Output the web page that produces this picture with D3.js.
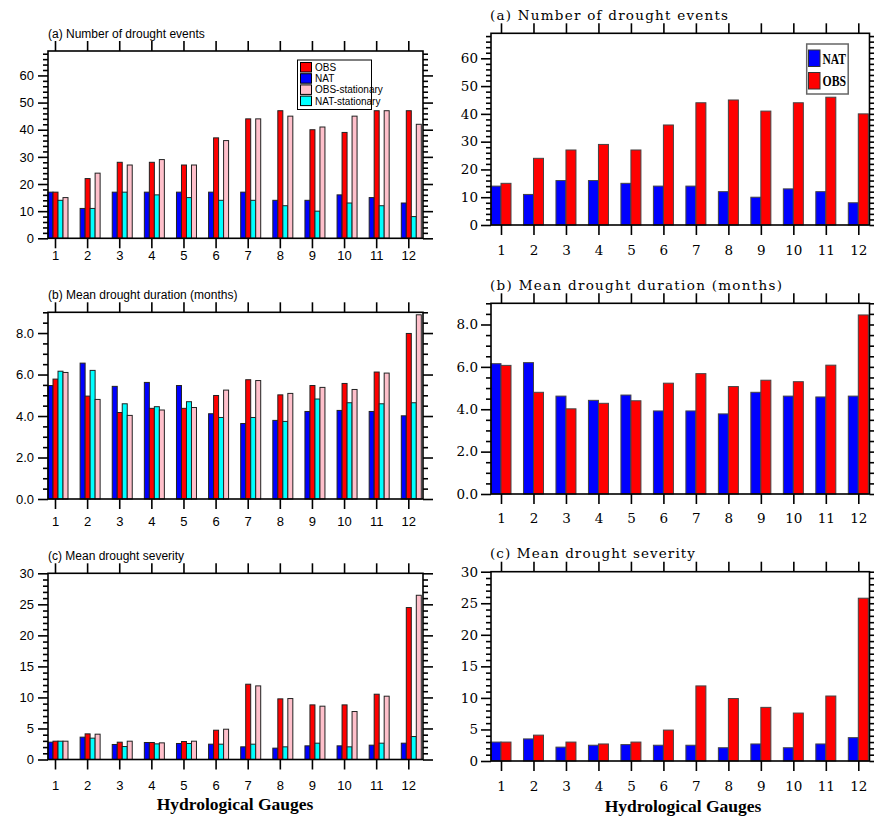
<!DOCTYPE html>
<html><head><meta charset="utf-8">
<script src="https://cdn.jsdelivr.net/npm/d3@7"></script>
<style>body{margin:0;background:#fff}svg{display:block}</style>
</head><body>
<svg id="c" width="874" height="818"></svg>
<script>
// ---------- data ----------
const gauges = [1,2,3,4,5,6,7,8,9,10,11,12];

// left column (four series)
const obsEvents      = [17,22,28,28,27,37,44,47,40,39,47,47];
const natEvents      = [17,11,17,17,17,17,17,14,14,16,15,13];
const obsStatEvents  = [15,24,27,29,27,36,44,45,41,45,47,42];
const natStatEvents  = [14,11,17,16,15,14,14,12,10,13,12,8];

const obsDuration     = [5.78,4.96,4.17,4.37,4.37,4.99,5.75,5.02,5.47,5.57,6.12,7.98];
const natDuration     = [5.47,6.55,5.43,5.62,5.47,4.11,3.64,3.79,4.22,4.27,4.22,4.01];
const obsStatDuration = [6.10,4.80,4.03,4.29,4.41,5.25,5.71,5.09,5.38,5.28,6.07,8.88];
const natStatDuration = [6.16,6.20,4.59,4.45,4.69,3.93,3.93,3.74,4.82,4.64,4.59,4.64];

const obsSeverity     = [2.95,4.13,2.79,2.74,2.90,4.72,12.13,9.77,8.80,8.80,10.52,24.48];
const natSeverity     = [2.79,3.60,2.42,2.74,2.58,2.47,2.04,1.83,2.20,2.20,2.31,2.63];
const obsStatSeverity = [2.95,4.08,2.95,2.68,2.95,4.88,11.86,9.82,8.59,7.73,10.20,26.46];
const natStatSeverity = [2.95,3.44,2.09,2.52,2.58,2.47,2.47,2.04,2.63,2.04,2.63,3.70];

// right column (two series)
const natEventsR   = [14,11,16,16,15,14,14,12,10,13,12,8];
const obsEventsR   = [15,24,27,29,27,36,44,45,41,44,46,40];
const natDurationR = [6.15,6.20,4.62,4.42,4.67,3.92,3.92,3.78,4.80,4.62,4.58,4.62];
const obsDurationR = [6.07,4.80,4.02,4.28,4.40,5.23,5.68,5.07,5.37,5.30,6.08,8.45];
const natSeverityR = [3.0,3.5,2.2,2.5,2.6,2.5,2.5,2.1,2.7,2.1,2.7,3.7];
const obsSeverityR = [3.0,4.1,3.0,2.7,3.0,4.9,11.9,9.9,8.5,7.6,10.3,25.8];

const titles = ["(a) Number of drought events","(b) Mean drought duration (months)","(c) Mean drought severity"];
const xAxisTitle = "Hydrological Gauges";
const leftLegend = ["OBS","NAT","OBS-stationary","NAT-stationary"];
const rightLegend = ["NAT","OBS"];

// ---------- drawing ----------
const C = {obs:"#ff0000", nat:"#0000ff", obsS:"#ffc0cb", natS:"#00ffff"};
const svg = d3.select("#c");
const SANS = "'Liberation Sans', Arial, Helvetica, sans-serif";
const SERIF = "'DejaVu Serif', serif";

function panel(o){
  const g = svg.append("g");
  const x = d3.scaleLinear().domain([1,12]).range(o.xr);
  const y = d3.scaleLinear().domain([0,o.max]).range([o.bottom,o.top]);

  o.series.forEach((s,i)=>{
    g.append("g").selectAll("rect").data(s.values).enter().append("rect")
      .attr("x",(d,j)=>x(gauges[j])+o.offsets[i])
      .attr("width",o.bw)
      .attr("y",d=>y(d))
      .attr("height",d=>y(0)-y(d))
      .attr("fill",s.color)
      .attr("stroke",o.barStroke)
      .attr("stroke-width",1);
  });

  const majors = d3.range(0,o.max+1e-9,o.major);
  const minors = d3.range(0,o.max+1e-9,o.minor).filter(v=>Math.abs(v/o.major-Math.round(v/o.major))>1e-6);

  const styleAxis = (sel)=>{ sel.select(".domain").remove(); sel.selectAll("line").attr("stroke","#000").attr("stroke-width",1.6); };

  const la = g.append("g").attr("transform",`translate(${o.left},0)`)
    .call(d3.axisLeft(y).tickValues(majors).tickSize(10).tickPadding(o.ypad).tickFormat(d3.format(o.fmt)));
  styleAxis(la);
  la.selectAll("text").attr("font-family",o.font).attr("font-size",o.fs).attr("fill","#000")
    .attr("letter-spacing",o.ls);
  g.append("g").attr("transform",`translate(${o.left},0)`)
    .call(d3.axisLeft(y).tickValues(minors).tickSize(5).tickFormat("")).call(styleAxis);
  g.append("g").attr("transform",`translate(${o.right},0)`)
    .call(d3.axisRight(y).tickValues(majors).tickSize(10).tickFormat("")).call(styleAxis);
  g.append("g").attr("transform",`translate(${o.right},0)`)
    .call(d3.axisRight(y).tickValues(minors).tickSize(5).tickFormat("")).call(styleAxis);
  g.append("g").attr("transform",`translate(0,${o.top})`)
    .call(d3.axisTop(x).tickValues(gauges).tickSize(10).tickFormat("")).call(styleAxis);
  const ba = g.append("g").attr("transform",`translate(0,${o.bottom})`)
    .call(d3.axisBottom(x).tickValues(gauges).tickSize(10).tickFormat(d3.format("d")));
  styleAxis(ba);
  ba.selectAll("text").attr("y",o.labelY-o.bottom).attr("dy","0.36em")
    .attr("font-family",o.font).attr("font-size",o.fs).attr("fill","#000").attr("letter-spacing",o.ls);

  g.append("rect").attr("x",o.left).attr("y",o.top)
    .attr("width",o.right-o.left).attr("height",o.bottom-o.top)
    .attr("fill","none").attr("stroke","#000").attr("stroke-width",1.6);

  const t = g.append("text").attr("x",o.left+(o.titleDx||0)).attr("y",o.titleY)
    .attr("font-family",o.font).attr("font-size",o.tfs).attr("fill","#000").text(o.title);
  if(o.titleW) t.attr("textLength",o.titleW).attr("lengthAdjust","spacing");
  return {x,y};
}

const L = {xr:[55,408.3], left:48, right:423, offsets:[-7,-2,3,8], bw:5, barStroke:"#222",
           font:SANS, fs:13, tfs:12, ls:0, ypad:4};
const R = {xr:[501,858.3], left:491, right:869.5, offsets:[-10,0], bw:10, barStroke:"#444",
           font:SERIF, fs:13.5, tfs:13.5, ls:0, ypad:3};

const leftSeries = [
  [natEvents,obsEvents,natStatEvents,obsStatEvents],
  [natDuration,obsDuration,natStatDuration,obsStatDuration],
  [natSeverity,obsSeverity,natStatSeverity,obsStatSeverity]
];
const leftColors = [C.nat,C.obs,C.natS,C.obsS];
const rightSeries = [[natEventsR,obsEventsR],[natDurationR,obsDurationR],[natSeverityR,obsSeverityR]];
const rightColors = [C.nat,C.obs];

const leftGeom = [
  {top:51,bottom:238.3,max:69,major:10,minor:2,fmt:"d",titleY:37.5,labelY:255},
  {top:312.3,bottom:499,max:9,major:2,minor:0.5,fmt:".1f",titleY:298.5,labelY:521.5},
  {top:573.3,bottom:759.5,max:30,major:5,minor:1,fmt:"d",titleY:560,labelY:785}
];
const rightGeom = [
  {top:33.3,bottom:225,max:69,major:10,minor:2,fmt:"d",titleY:20,labelY:250,titleW:238},
  {top:303.3,bottom:494,max:9,major:2,minor:0.5,fmt:".1f",titleY:290,labelY:518,titleW:292},
  {top:571.7,bottom:761,max:30,major:5,minor:1,fmt:"d",titleY:558,labelY:786,titleW:205}
];

leftGeom.forEach((gm,i)=>{
  panel(Object.assign({},L,gm,{title:titles[i],
    series:leftSeries[i].map((v,k)=>({values:v,color:leftColors[k]}))}));
});
rightGeom.forEach((gm,i)=>{
  panel(Object.assign({},R,gm,{title:titles[i],titleDx:-1,
    series:rightSeries[i].map((v,k)=>({values:v,color:rightColors[k]}))}));
});

// left legend
const lg = svg.append("g");
lg.append("rect").attr("x",297.5).attr("y",60).attr("width",74).attr("height",49.5)
  .attr("fill","#fff").attr("stroke","#000").attr("stroke-width",1);
const lgCols = [C.obs,C.nat,C.obsS,C.natS];
leftLegend.forEach((name,i)=>{
  const yy = 62.5 + i*11.2;
  lg.append("rect").attr("x",300.5).attr("y",yy).attr("width",11).attr("height",9.5)
    .attr("fill",lgCols[i]).attr("stroke","#000").attr("stroke-width",1);
  lg.append("text").attr("x",315).attr("y",yy+4.9).attr("dy","0.35em")
    .attr("font-family",SANS).attr("font-size",10).attr("fill","#000").text(name);
});

// right legend
const rg = svg.append("g");
rg.append("rect").attr("x",806.7).attr("y",44).attr("width",41.5).attr("height",50)
  .attr("fill","#fff").attr("stroke","#666").attr("stroke-width",1.5);
const rgCols = [C.nat,C.obs];
rightLegend.forEach((name,i)=>{
  const yy = 50 + i*22.5;
  rg.append("rect").attr("x",808.5).attr("y",yy).attr("width",11.5).attr("height",16.5)
    .attr("fill",rgCols[i]).attr("stroke","#333").attr("stroke-width",1);
  rg.append("text").attr("x",822.5).attr("y",yy+8.5).attr("dy","0.36em")
    .attr("font-family","'Liberation Serif', 'Times New Roman', serif").attr("font-weight","bold")
    .attr("font-size",14).attr("textLength",23.5).attr("lengthAdjust","spacingAndGlyphs")
    .attr("fill","#000").text(name);
});

// x-axis titles
[[235,810],[683,811.5]].forEach(([cx,cy])=>{
  svg.append("text").attr("x",cx).attr("y",cy).attr("text-anchor","middle")
    .attr("font-family","'Liberation Serif', 'Times New Roman', serif").attr("font-weight","bold")
    .attr("font-size",17.5).attr("fill","#000").text(xAxisTitle);
});
</script>
</body></html>
